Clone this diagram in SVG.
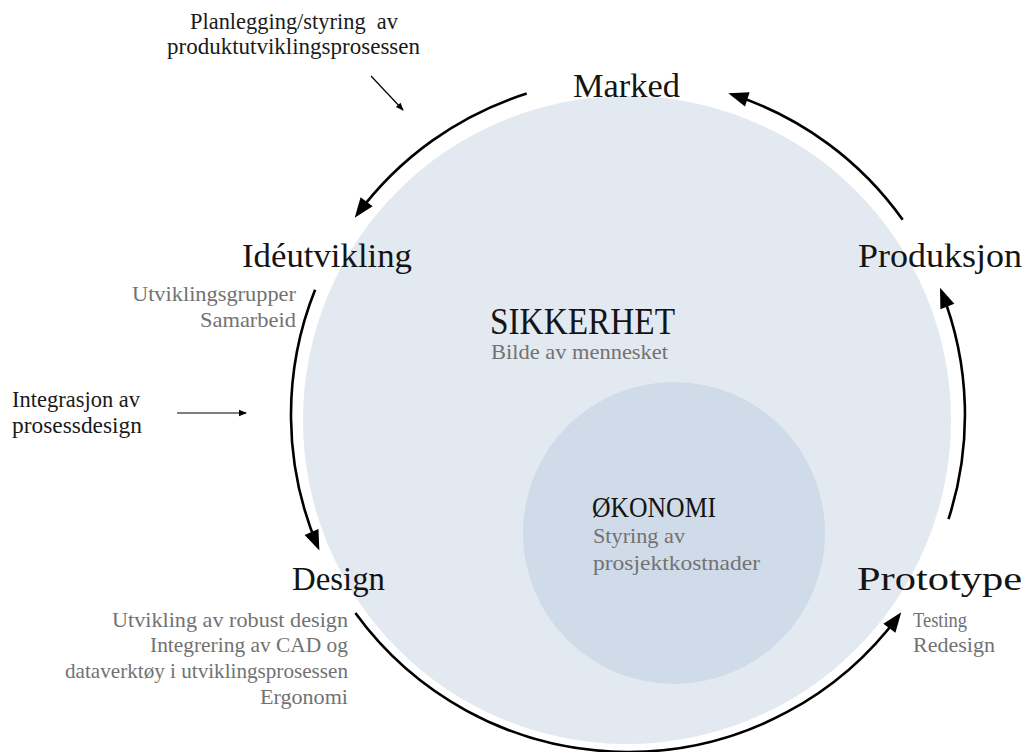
<svg xmlns="http://www.w3.org/2000/svg" width="1026" height="752" viewBox="0 0 1026 752">
  <style>
    text { font-family: "Liberation Serif", "Times New Roman", serif; white-space: pre; }
    .lbl { font-size: 33px; fill: #141414; }
    .sub { font-size: 21.5px; fill: #727272; }
    .note { font-size: 22.5px; fill: #1a1a1a; }
    .flow { fill: none; stroke: #000; stroke-width: 2.6; }
    .hint { fill: none; stroke: #000; stroke-width: 1.2; }
  </style>
  <defs>
    <marker id="head" markerUnits="userSpaceOnUse" markerWidth="24" markerHeight="20" viewBox="-18 -9 24 18" refX="0" refY="0" orient="auto">
      <path d="M-16,-7.5 L4,0 L-16,7.5 Z" fill="#000"/>
    </marker>
    <marker id="small" markerUnits="userSpaceOnUse" markerWidth="12" markerHeight="10" viewBox="-8 -4 12 8" refX="0" refY="0" orient="auto">
      <path d="M-7,-3.2 L1,0 L-7,3.2 Z" fill="#000"/>
    </marker>
  </defs>

  <rect width="1026" height="752" fill="#ffffff"/>

  <!-- outer field -->
  <g id="sikkerhet">
    <circle cx="627" cy="420" r="324" fill="#e2e9f0"/>
    <text x="490" y="334" style="font-size:38px;fill:#141414" textLength="185" lengthAdjust="spacingAndGlyphs">SIKKERHET</text>
    <text class="sub" x="491" y="359" textLength="177" lengthAdjust="spacingAndGlyphs">Bilde av mennesket</text>
  </g>

  <!-- inner field -->
  <g id="okonomi">
    <circle cx="674" cy="533" r="151" fill="#cfdbe8"/>
    <text x="592" y="517" style="font-size:29px;fill:#141414" textLength="124" lengthAdjust="spacingAndGlyphs">ØKONOMI</text>
    <text class="sub" x="593" y="543" textLength="92" lengthAdjust="spacingAndGlyphs">Styring av</text>
    <text class="sub" x="593" y="570" textLength="167" lengthAdjust="spacingAndGlyphs">prosjektkostnader</text>
  </g>

  <!-- cycle arrows -->
  <g id="connectors">
    <path class="flow" d="M526.7,93.6 A337,337 0 0 0 357.1,214.6" marker-end="url(#head)"/>
    <path class="flow" d="M315.1,289.8 A337,337 0 0 0 317.8,546.7" marker-end="url(#head)"/>
    <path class="flow" d="M355.4,613.1 A337,337 0 0 0 898.9,615.4" marker-end="url(#head)"/>
    <path class="flow" d="M948.5,519.1 A337,337 0 0 0 941.5,291.5" marker-end="url(#head)"/>
    <path class="flow" d="M902.7,219.8 A337,337 0 0 0 732.1,94.5" marker-end="url(#head)"/>
    <line class="hint" x1="371" y1="76" x2="403" y2="110" marker-end="url(#small)"/>
    <line class="hint" x1="177" y1="413" x2="246" y2="413" marker-end="url(#small)"/>
  </g>

  <g id="marked">
    <text class="lbl" x="573" y="97" textLength="107" lengthAdjust="spacingAndGlyphs">Marked</text>
  </g>

  <g id="ideutvikling">
    <text class="lbl" x="242" y="267" textLength="170" lengthAdjust="spacingAndGlyphs">Idéutvikling</text>
    <text class="sub" x="296" y="301" text-anchor="end" textLength="164" lengthAdjust="spacingAndGlyphs">Utviklingsgrupper</text>
    <text class="sub" x="296" y="327" text-anchor="end" textLength="96" lengthAdjust="spacingAndGlyphs">Samarbeid</text>
  </g>

  <g id="design">
    <text class="lbl" x="292" y="590" textLength="93" lengthAdjust="spacingAndGlyphs">Design</text>
    <text class="sub" x="348" y="627" text-anchor="end" textLength="236" lengthAdjust="spacingAndGlyphs">Utvikling av robust design</text>
    <text class="sub" x="348" y="652" text-anchor="end" textLength="198" lengthAdjust="spacingAndGlyphs">Integrering av CAD og</text>
    <text class="sub" x="348" y="678" text-anchor="end" textLength="283" lengthAdjust="spacingAndGlyphs">dataverktøy i utviklingsprosessen</text>
    <text class="sub" x="348" y="704" text-anchor="end" textLength="88" lengthAdjust="spacingAndGlyphs">Ergonomi</text>
  </g>

  <g id="prototype">
    <text class="lbl" x="857" y="590" textLength="165" lengthAdjust="spacingAndGlyphs">Prototype</text>
    <text class="sub" x="913" y="627" textLength="54" lengthAdjust="spacingAndGlyphs">Testing</text>
    <text class="sub" x="913" y="652" textLength="82" lengthAdjust="spacingAndGlyphs">Redesign</text>
  </g>

  <g id="produksjon">
    <text class="lbl" x="858" y="267" textLength="164" lengthAdjust="spacingAndGlyphs">Produksjon</text>
  </g>

  <g id="planlegging">
    <text class="note" x="190" y="29" textLength="208" lengthAdjust="spacingAndGlyphs">Planlegging/styring  av</text>
    <text class="note" x="167" y="54" textLength="253" lengthAdjust="spacingAndGlyphs">produktutviklingsprosessen</text>
  </g>

  <g id="integrasjon">
    <text class="note" x="12" y="407" textLength="128" lengthAdjust="spacingAndGlyphs">Integrasjon av</text>
    <text class="note" x="12" y="433" textLength="130" lengthAdjust="spacingAndGlyphs">prosessdesign</text>
  </g>
</svg>
